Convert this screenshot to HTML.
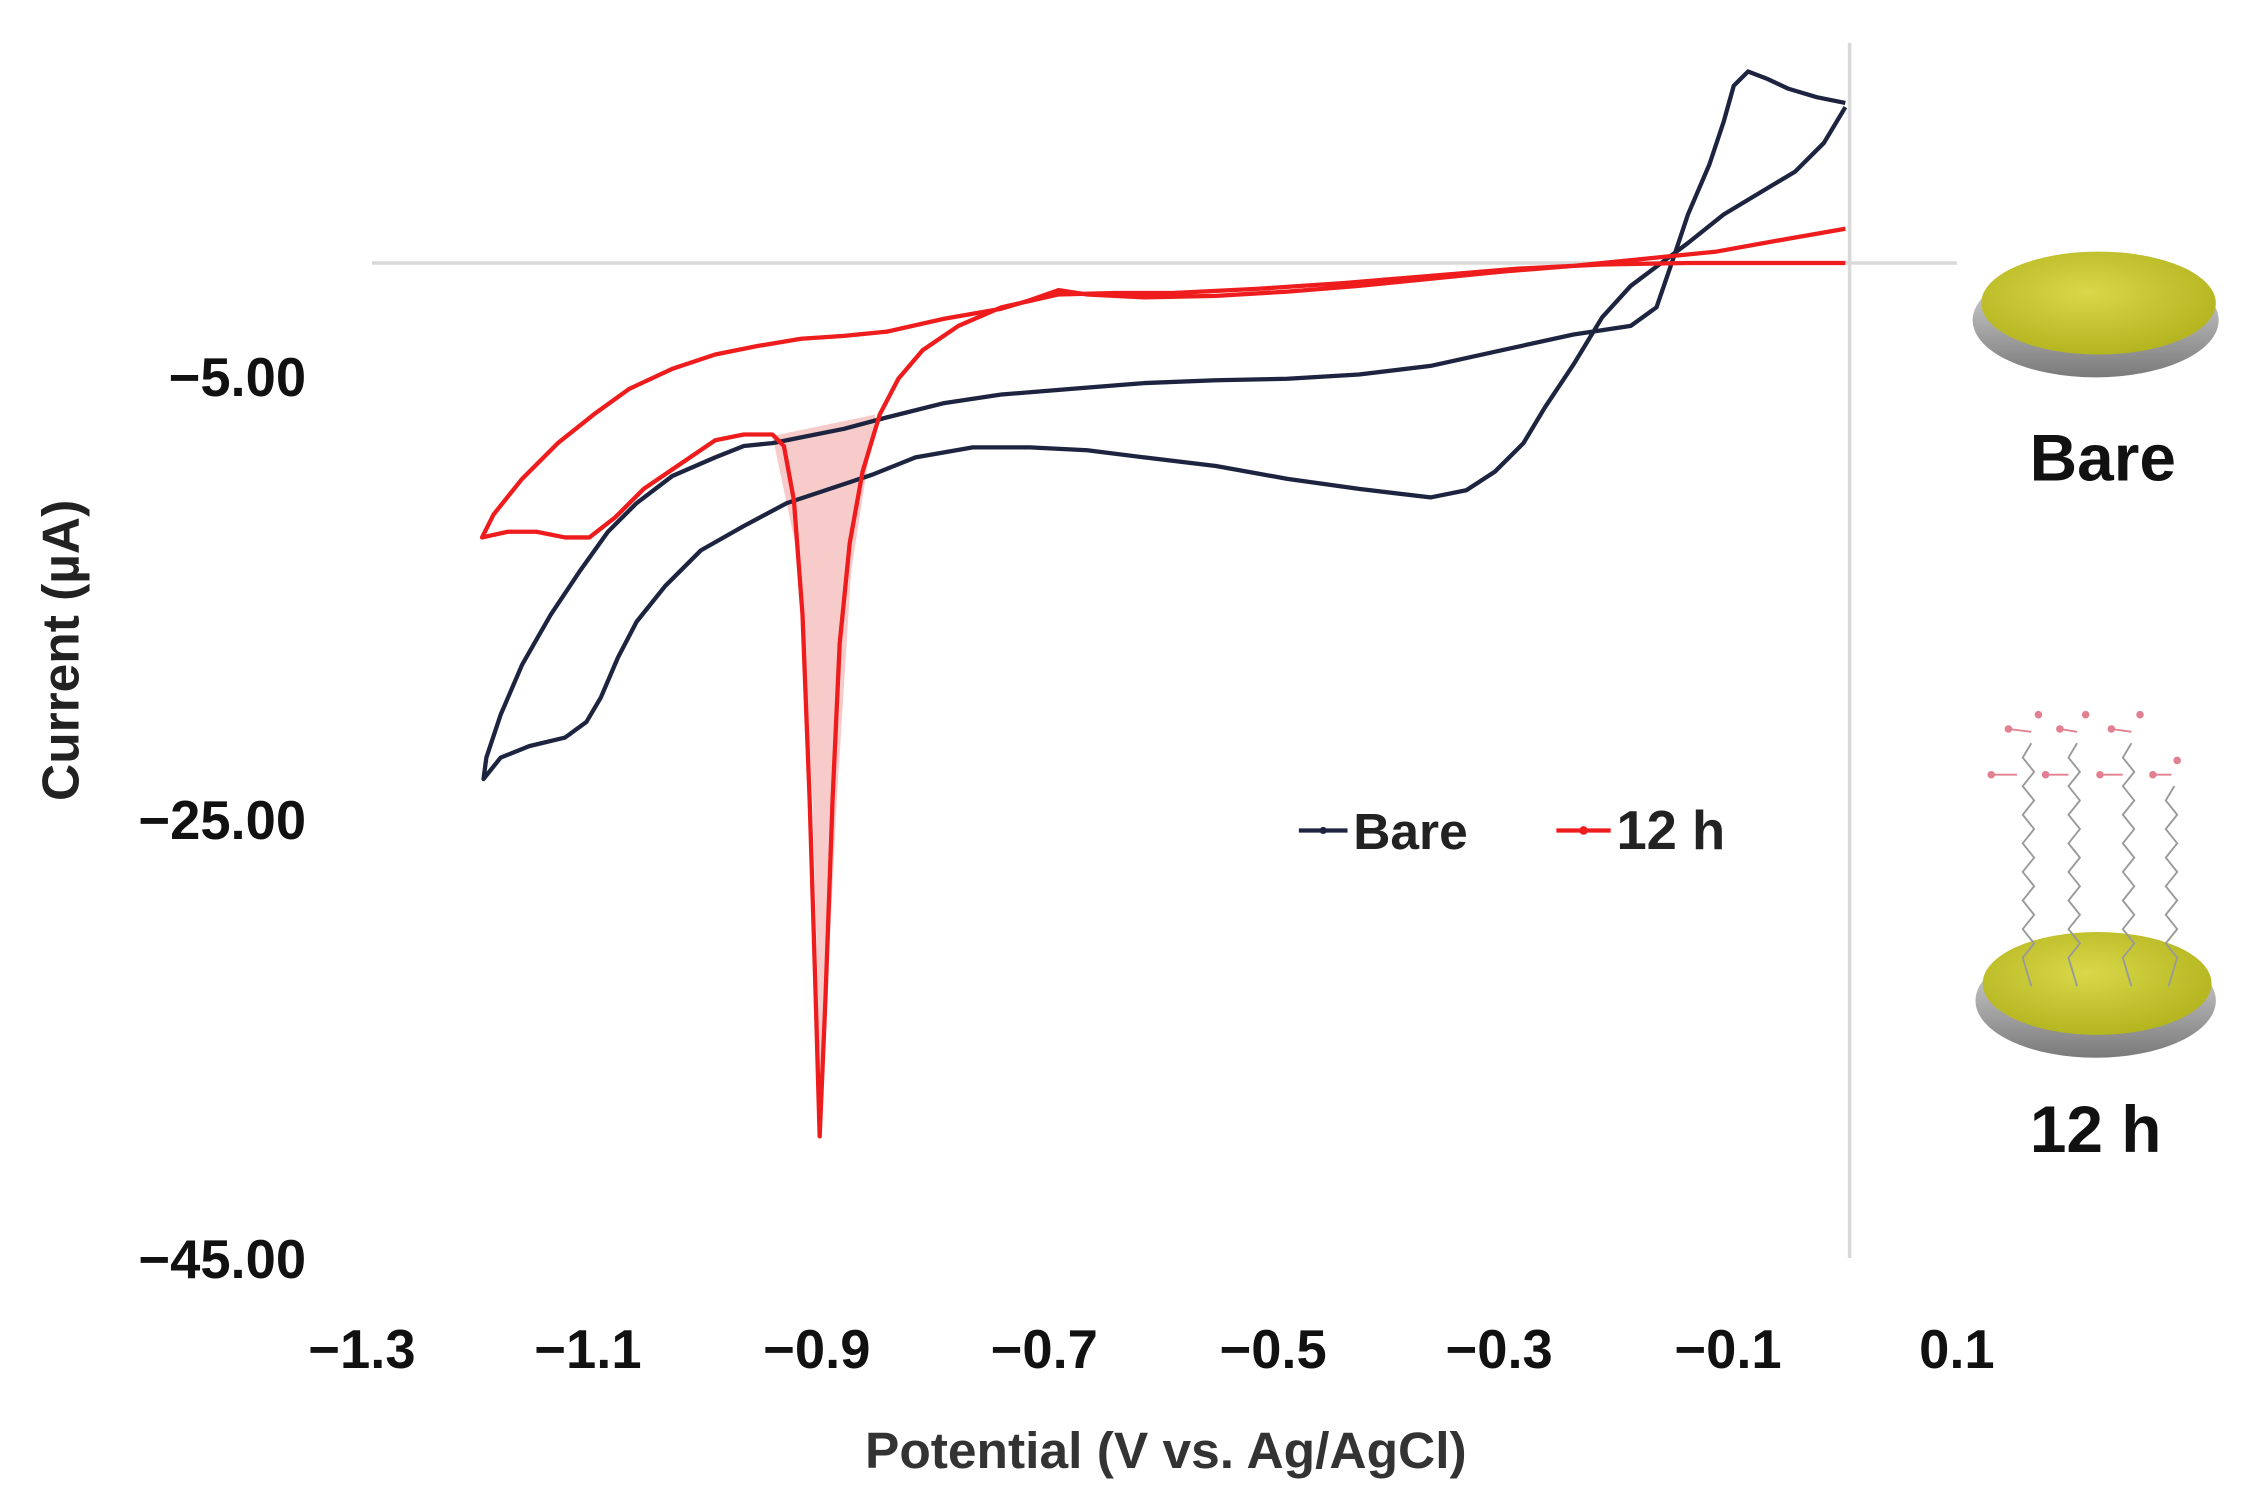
<!DOCTYPE html>
<html><head><meta charset="utf-8"><style>
html,body{margin:0;padding:0;background:#fff;}
svg{display:block;}
text{font-family:"Liberation Sans",sans-serif;}
</style></head><body>
<svg width="2243" height="1498" viewBox="0 0 1568 1048" preserveAspectRatio="none" xmlns="http://www.w3.org/2000/svg">
<defs>
<radialGradient id="gold" cx="0.45" cy="0.4" r="0.6">
<stop offset="0" stop-color="#d8d84a"/><stop offset="1" stop-color="#b5b520"/>
</radialGradient>
<linearGradient id="base" x1="0" y1="0" x2="0" y2="1">
<stop offset="0" stop-color="#e0e0e0"/><stop offset="1" stop-color="#7a7a7a"/>
</linearGradient>
</defs>
<rect width="1568" height="1048" fill="#fff"/>
<line x1="260" y1="184" x2="1368" y2="184" stroke="#d9d9d9" stroke-width="2.5"/>
<line x1="1293" y1="30" x2="1293" y2="880" stroke="#d9d9d9" stroke-width="2.5"/>
<g font-size="38" font-weight="bold" text-anchor="end" fill="#111">
<text x="214" y="277">−5.00</text>
<text x="214" y="587">−25.00</text>
<text x="214" y="894">−45.00</text>
</g>
<g font-size="38" font-weight="bold" text-anchor="middle" fill="#111">
<text x="253" y="957">−1.3</text>
<text x="411" y="957">−1.1</text>
<text x="571" y="957">−0.9</text>
<text x="730" y="957">−0.7</text>
<text x="890" y="957">−0.5</text>
<text x="1048" y="957">−0.3</text>
<text x="1208" y="957">−0.1</text>
<text x="1368" y="957">0.1</text>
</g>
<text x="815" y="1027" font-size="36" font-weight="bold" text-anchor="middle" fill="#333">Potential (V vs. Ag/AgCl)</text>
<text transform="translate(55,455) rotate(-90)" font-size="36" font-weight="bold" text-anchor="middle" fill="#222">Current (µA)</text>
<polygon points="540,305 560,400 568,560 572,700 573,795 578,700 585,560 595,400 612,290" fill="#f4a8a8" opacity="0.6"/>
<polyline fill="none" stroke="#1d2440" stroke-width="3" stroke-linejoin="round" points="1290,72 1270,68 1250,62 1235,55 1222,50 1212,60 1205,85 1195,115 1180,150 1170,180 1158,215 1140,228 1100,234 1050,245 1000,256 950,262 900,265 850,266 800,268 750,272 700,276 660,282 620,292 590,300 560,306 540,310 520,312 500,320 470,333 445,352 425,372 405,400 385,430 365,465 350,500 340,530 338,545 350,530 370,522 395,516 410,505 420,488 432,460 445,435 465,410 490,385 520,368 550,352 580,342 610,332 640,320 680,313 720,313 760,315 800,320 850,326 900,335 950,342 1000,348 1025,343 1045,330 1065,310 1080,285 1100,255 1120,222 1140,200 1160,185 1180,170 1205,150 1230,135 1255,120 1275,100 1290,75"/>
<polyline fill="none" stroke="#ee1c1c" stroke-width="3" stroke-linejoin="round" points="1290,160 1250,167 1200,176 1150,181 1100,186 1050,190 1000,195 950,200 900,204 850,207 800,208 760,206 740,203 720,210 700,216 660,223 620,232 590,235 560,237 530,242 500,248 470,258 440,272 415,290 390,310 365,335 345,360 337,376 355,372 375,372 395,376 412,376 430,362 450,342 475,325 500,308 520,304 540,304 548,312 555,350 561,430 566,560 570,690 573,795 577,700 582,560 587,450 594,380 603,330 615,290 628,265 645,245 670,228 700,215 740,206 780,205 820,205 880,202 940,198 1000,193 1060,188 1120,185 1180,184 1240,184 1290,184"/>
<line x1="908" y1="581" x2="942" y2="581" stroke="#1d2440" stroke-width="3"/>
<circle cx="925" cy="581" r="2.5" fill="#1d2440"/>
<text x="946" y="594" font-size="36" font-weight="bold" fill="#222">Bare</text>
<line x1="1088" y1="581" x2="1126" y2="581" stroke="#ee1c1c" stroke-width="3"/>
<circle cx="1107" cy="581" r="3" fill="#ee1c1c"/>
<text x="1130" y="594" font-size="38" font-weight="bold" fill="#222">12 h</text>
<ellipse cx="1465" cy="224" rx="86" ry="40" fill="url(#base)"/>
<ellipse cx="1467" cy="212" rx="82" ry="36" fill="url(#gold)"/>
<text x="1470" y="336" font-size="46" font-weight="bold" text-anchor="middle" fill="#111">Bare</text>
<ellipse cx="1465" cy="700" rx="84" ry="40" fill="url(#base)"/>
<ellipse cx="1466" cy="688" rx="80" ry="36" fill="url(#gold)"/>
<g fill="none" stroke="#999" stroke-width="1.3">
<polyline points="1420,520 1414,530 1422,540 1414,550 1422,560 1414,570 1422,580 1414,590 1422,600 1414,610 1422,620 1414,630 1422,640 1414,650 1422,660 1414,670 1420,690"/>
<polyline points="1452,520 1446,530 1454,540 1446,550 1454,560 1446,570 1454,580 1446,590 1454,600 1446,610 1454,620 1446,630 1454,640 1446,650 1454,660 1446,670 1452,690"/>
<polyline points="1490,520 1484,530 1492,540 1484,550 1492,560 1484,570 1492,580 1484,590 1492,600 1484,610 1492,620 1484,630 1492,640 1484,650 1492,660 1484,670 1490,690"/>
<polyline points="1520,550 1514,560 1522,570 1514,580 1522,590 1514,600 1522,610 1514,620 1522,630 1514,640 1522,650 1514,660 1522,670 1516,690"/>
</g>
<g stroke="#e08090" stroke-width="1.3" fill="#e08090">
<line x1="1404" y1="510" x2="1420" y2="512"/><circle cx="1404" cy="510" r="2"/><circle cx="1425" cy="500" r="2"/>
<line x1="1440" y1="510" x2="1452" y2="512"/><circle cx="1440" cy="510" r="2"/><circle cx="1458" cy="500" r="2"/>
<line x1="1476" y1="510" x2="1490" y2="512"/><circle cx="1476" cy="510" r="2"/><circle cx="1496" cy="500" r="2"/>
<line x1="1392" y1="542" x2="1410" y2="542"/><circle cx="1392" cy="542" r="2"/>
<line x1="1430" y1="542" x2="1446" y2="542"/><circle cx="1430" cy="542" r="2"/>
<line x1="1468" y1="542" x2="1484" y2="542"/><circle cx="1468" cy="542" r="2"/>
<line x1="1505" y1="542" x2="1518" y2="542"/><circle cx="1505" cy="542" r="2"/><circle cx="1522" cy="532" r="2"/>
</g>
<text x="1465" y="806" font-size="46" font-weight="bold" text-anchor="middle" fill="#111">12 h</text>
</svg>
</body></html>
